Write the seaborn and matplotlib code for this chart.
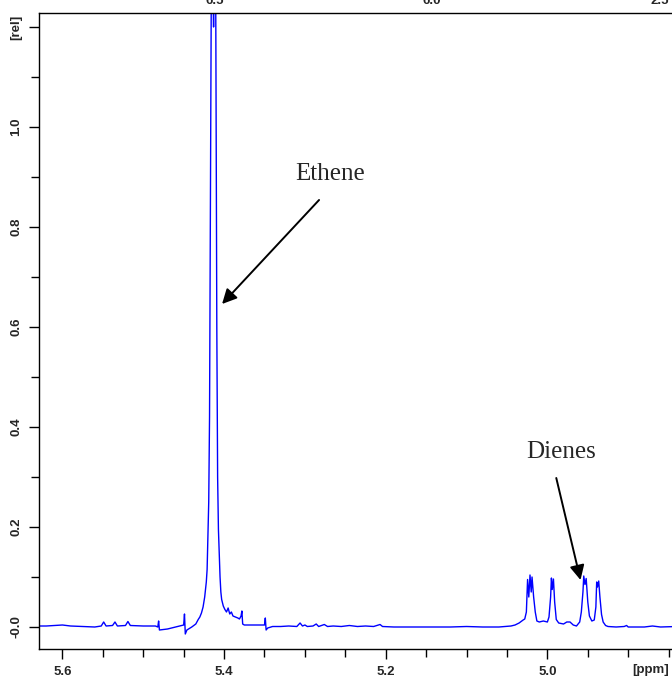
import matplotlib
matplotlib.use("Agg")
import matplotlib.pyplot as plt
from matplotlib.ticker import MultipleLocator, FixedLocator
import seaborn as sns

# 1H NMR spectrum, olefinic region (chemical shift in ppm, relative intensity)
ppm = [
    5.630, 5.620, 5.610, 5.600, 5.590, 5.575, 5.560, 5.552, 5.549, 5.546,
    5.538, 5.535, 5.532, 5.522, 5.519, 5.516, 5.500, 5.485, 5.482, 5.481,
    5.480, 5.470, 5.455, 5.450, 5.449, 5.448, 5.446, 5.440, 5.435, 5.432,
    5.430, 5.428, 5.426, 5.424, 5.422, 5.421, 5.420, 5.419, 5.418, 5.417,
    5.4160, 5.4150, 5.4140, 5.4130, 5.4120, 5.4112, 5.4100, 5.4090, 5.4080, 5.4070,
    5.4060, 5.4050, 5.4040, 5.403, 5.401, 5.399, 5.397, 5.395, 5.393, 5.391,
    5.389, 5.386, 5.383, 5.381, 5.379, 5.378, 5.377, 5.375, 5.365, 5.355,
    5.350, 5.349, 5.348, 5.346, 5.340, 5.330, 5.320, 5.310, 5.306, 5.303,
    5.300, 5.297, 5.290, 5.286, 5.283, 5.276, 5.272, 5.265, 5.255, 5.245,
    5.235, 5.225, 5.215, 5.207, 5.204, 5.190, 5.170, 5.150, 5.120, 5.100,
    5.080, 5.060, 5.045, 5.040, 5.035, 5.030, 5.028, 5.026, 5.0245, 5.023,
    5.0215, 5.020, 5.019, 5.017, 5.015, 5.013, 5.010, 5.005, 5.000, 4.998,
    4.996, 4.995, 4.994, 4.9925, 4.991, 4.989, 4.986, 4.980, 4.976, 4.972,
    4.968, 4.964, 4.960, 4.958, 4.956, 4.955, 4.9535, 4.952, 4.950, 4.948,
    4.945, 4.942, 4.940, 4.939, 4.938, 4.9365, 4.935, 4.933, 4.931, 4.928,
    4.925, 4.915, 4.905, 4.902, 4.900, 4.880, 4.870, 4.860, 4.840, 4.835,
]
intensity = [
    0.002, 0.002, 0.003, 0.004, 0.002, 0.001, 0.000, 0.002, 0.010, 0.002,
    0.003, 0.010, 0.002, 0.003, 0.011, 0.003, 0.002, 0.002, 0.000, 0.012,
    -0.006, -0.004, 0.002, 0.004, 0.026, -0.014, -0.006, 0.000, 0.006, 0.015,
    0.020, 0.028, 0.040, 0.060, 0.090, 0.115, 0.180, 0.250, 0.420, 0.830,
    1.200, 1.650, 1.300, 1.200, 1.350, 1.650, 1.100, 0.600, 0.300, 0.195,
    0.150, 0.100, 0.070, 0.055, 0.042, 0.035, 0.030, 0.038, 0.026, 0.030,
    0.022, 0.020, 0.018, 0.016, 0.022, 0.032, 0.006, 0.004, 0.004, 0.004,
    0.004, 0.018, -0.006, -0.002, 0.001, 0.001, 0.002, 0.001, 0.008, 0.002,
    0.004, 0.001, 0.002, 0.006, 0.001, 0.005, 0.001, 0.002, 0.001, 0.003,
    0.001, 0.002, 0.001, 0.005, 0.001, 0.000, 0.000, 0.000, 0.000, 0.001,
    0.000, 0.000, 0.002, 0.004, 0.008, 0.014, 0.016, 0.030, 0.095, 0.060,
    0.104, 0.070, 0.100, 0.060, 0.030, 0.012, 0.010, 0.012, 0.010, 0.020,
    0.060, 0.098, 0.075, 0.096, 0.050, 0.015, 0.008, 0.006, 0.010, 0.010,
    0.004, 0.002, 0.010, 0.030, 0.070, 0.102, 0.085, 0.097, 0.050, 0.022,
    0.012, 0.014, 0.040, 0.090, 0.080, 0.092, 0.060, 0.025, 0.010, 0.003,
    0.001, 0.000, 0.001, 0.003, 0.000, 0.000, 0.002, 0.000, 0.001, 0.000,
]

x_ticks = [5.6, 5.4, 5.2, 5.0]
x_tick_labels = ["5.6", "5.4", "5.2", "5.0"]
y_ticks = [0.0, 0.2, 0.4, 0.6, 0.8, 1.0, 1.2]
y_tick_labels = ["-0.0", "0.2", "0.4", "0.6", "0.8", "1.0", "[rel]"]
upper_panel_labels = ["6.5", "6.0", "2.5"]

sns.set_style("ticks")
plt.rcParams["font.family"] = ["Liberation Sans", "DejaVu Sans"]

W, H = 672, 681
fig = plt.figure(figsize=(W / 100, H / 100), dpi=100)
ax = fig.add_axes([39 / W, (H - 649) / H, 1 - 39 / W + 0.01, (649 - 13) / H])

sns.lineplot(x=ppm, y=intensity, ax=ax, color="#0000ff", linewidth=1.0,
             estimator=None, sort=False)

ax.set_xlim(5.629, 4.8375)
ax.set_ylim(-0.044, 1.228)

ax.xaxis.set_major_locator(FixedLocator(x_ticks))
ax.set_xticklabels(x_tick_labels)
ax.xaxis.set_minor_locator(MultipleLocator(0.05))
ax.yaxis.set_major_locator(FixedLocator(y_ticks))
ax.set_yticklabels(y_tick_labels, rotation=90, va="center")
ax.yaxis.set_minor_locator(MultipleLocator(0.1))

ax.tick_params(axis="both", which="major", direction="out", length=7, width=1,
               color="black", labelsize=9.5, pad=5)
ax.tick_params(axis="both", which="minor", direction="out", length=6, width=1,
               color="black")
for lab in ax.get_xticklabels() + ax.get_yticklabels():
    lab.set_fontweight("bold")

for side in ("left", "bottom", "top"):
    ax.spines[side].set_visible(True)
    ax.spines[side].set_linewidth(1.0)
    ax.spines[side].set_color("black")
ax.spines["right"].set_visible(False)
ax.grid(False)

# unit label on the chemical-shift axis
fig.text(651 / W, 1 - 670 / H, "[ppm]", ha="center", va="center",
         fontsize=9.5, fontweight="bold")

# tick labels of the neighbouring panel above
for xp, txt in zip([215, 432, 660], upper_panel_labels):
    fig.text(xp / W, 1 - 1 / H, txt, ha="center", va="center",
             fontsize=9.5, fontweight="bold")

# peak annotations
arrow = dict(arrowstyle="-|>", mutation_scale=22, lw=1.4, color="black",
             shrinkA=0, shrinkB=0)
ax.annotate("", xy=(5.4025, 0.646), xytext=(5.2825, 0.854), arrowprops=arrow)
ax.text(5.269, 0.906, "Ethene", ha="center", va="center",
        fontsize=18, family="Liberation Serif")
ax.annotate("", xy=(4.959, 0.094), xytext=(4.989, 0.298), arrowprops=arrow)
ax.text(4.9825, 0.35, "Dienes", ha="center", va="center",
        fontsize=18, family="Liberation Serif")

fig.savefig("out.png", dpi=100)
